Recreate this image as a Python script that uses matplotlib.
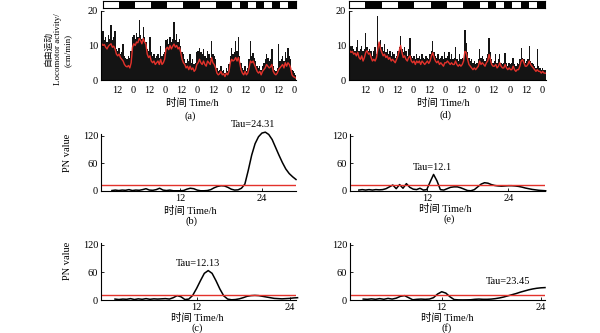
import numpy as np
import matplotlib
matplotlib.use("Agg")
import matplotlib.pyplot as plt
from matplotlib.patches import Rectangle

plt.rcParams['font.family'] = ['Liberation Serif', 'Noto Sans CJK SC']
plt.rcParams['font.size'] = 7.5

# ---------------- data ----------------
# light/dark schedule (hours)
ld_edges = [0, 12, 24, 36, 48, 60, 72, 84, 96, 102, 108, 114, 120, 126, 132, 138, 144]
ld_dark = [0, 1, 0, 1, 0, 1, 0, 1, 0, 1, 0, 1, 0, 1, 0, 1]

# panel (a): hourly activity (cm/min), raw and smoothed
act_a = [12.0, 14.3, 11.5, 12.5, 11.0, 13.0, 12.0, 15.8, 11.5, 12.5, 14.3, 9.0,
         8.5, 9.4, 7.5, 8.0, 10.5, 7.0, 6.5, 6.0, 7.0, 6.5, 8.5, 12.5,
         13.0, 12.0, 13.5, 12.5, 17.3, 13.0, 12.0, 15.3, 12.5, 11.0, 9.0, 8.5,
         12.4, 8.0, 7.0, 7.5, 6.5, 7.0, 7.5, 6.5, 9.9, 7.0, 7.5, 8.0,
         11.5, 12.0, 10.5, 12.5, 11.0, 12.0, 16.8, 11.5, 13.3, 11.0, 12.0, 10.0,
         8.0, 7.5, 6.0, 5.0, 6.0, 5.5, 7.5, 5.0, 6.0, 4.5, 5.0, 8.0,
         8.5, 9.4, 8.0, 7.5, 8.9, 7.0, 6.5, 8.4, 7.5, 6.5, 11.4, 7.5,
         7.0, 6.0, 3.5, 2.5, 3.0, 4.0, 2.5, 3.0, 2.0, 3.5, 2.5, 4.5,
         7.0, 9.4, 7.5, 8.0, 11.4, 8.5, 12.4, 7.0, 5.0, 3.5, 3.0, 4.0,
         2.5, 3.5, 6.0, 11.4, 7.0, 7.9, 6.5, 5.5, 4.0, 3.5, 4.0, 3.0,
         4.0, 5.0, 6.0, 7.5, 6.5, 5.5, 6.0, 8.9, 4.0, 3.0, 2.5, 3.5,
         10.4, 5.5, 6.0, 7.0, 5.5, 8.0, 6.5, 9.4, 7.0, 6.0, 3.0, 2.5,
         2.0, 1.5]
smooth_a = [10.5, 10.0, 10.3, 9.5, 9.0, 9.8, 10.2, 10.5, 9.5, 9.8, 9.0, 7.5,
            7.0, 7.5, 6.5, 6.0, 5.5, 4.5, 4.0, 3.8, 4.2, 3.5, 5.0, 9.5,
            10.5, 10.0, 11.0, 10.8, 12.0, 11.5, 10.5, 12.0, 11.0, 10.4, 7.5, 6.5,
            7.0, 5.5, 5.0, 5.5, 4.5, 5.0, 5.5, 4.5, 6.0, 4.5, 5.0, 6.0,
            9.0, 9.5, 8.8, 10.0, 9.0, 9.8, 10.4, 9.5, 10.0, 9.0, 9.5, 8.0,
            6.0, 5.0, 4.5, 3.5, 4.0, 3.0, 4.0, 3.0, 3.5, 2.5, 3.0, 4.5,
            5.0, 6.0, 5.0, 4.5, 5.5, 4.5, 4.0, 5.5, 5.0, 4.5, 6.5, 5.0,
            4.5, 3.5, 2.0, 1.5, 1.8, 2.5, 1.5, 1.8, 1.0, 2.0, 1.5, 2.5,
            5.0, 6.0, 5.5, 5.8, 6.5, 5.5, 6.5, 5.0, 3.0, 2.0, 1.5, 2.5,
            1.5, 2.0, 3.5, 5.5, 5.0, 5.5, 4.5, 3.5, 2.5, 2.0, 2.5, 1.5,
            2.5, 3.0, 3.5, 4.5, 4.0, 3.5, 3.8, 4.5, 2.5, 1.8, 1.5, 2.0,
            3.0, 3.5, 4.0, 4.5, 3.5, 5.0, 4.0, 5.0, 4.5, 3.5, 1.5, 1.0,
            0.8, 0.5]

# panel (d)
act_d = [11.5, 9.5, 10.0, 9.0, 8.5, 9.5, 11.7, 8.5, 9.0, 10.0, 8.5, 9.0,
         13.7, 9.5, 8.5, 9.0, 8.5, 7.0, 8.5, 9.5, 7.5, 18.5, 10.5, 11.5,
         9.5, 8.5, 10.5, 8.0, 9.0, 7.5, 8.5, 7.0, 8.0, 7.5, 6.5, 7.0,
         8.5, 9.5, 12.7, 9.0, 8.0, 9.5, 8.5, 7.0, 9.0, 12.2, 7.0, 6.5,
         7.0, 6.0, 7.5, 6.5, 7.0, 6.0, 7.5, 6.5, 6.0, 7.0, 6.5, 6.0,
         7.5, 8.5, 11.3, 8.0, 7.0, 6.5, 7.5, 6.0, 6.5, 7.0, 6.0, 8.0,
         6.5, 7.0, 8.0, 6.0, 7.5, 6.0, 6.5, 9.5, 6.0, 5.5, 7.5, 6.0,
         6.5, 5.5, 14.4, 10.8, 8.0, 6.5, 5.5, 6.0, 5.0, 5.5, 4.5, 5.0,
         6.0, 9.1, 6.5, 7.0, 6.0, 5.5, 6.5, 7.5, 12.2, 8.0, 6.0, 5.0,
         5.5, 7.5, 5.0, 6.0, 7.5, 5.0, 4.5, 5.0, 7.9, 5.0, 4.0, 5.0,
         4.5, 5.0, 6.5, 4.5, 4.0, 5.0, 4.5, 6.0, 9.3, 6.5, 6.0, 5.0,
         5.5, 6.0, 9.8, 5.5, 5.0, 4.5, 4.0, 3.5, 9.1, 4.0, 3.5, 3.0,
         3.5, 3.0, 3.0, 2.5]
smooth_d = [8.5, 8.0, 8.3, 7.5, 7.8, 7.0, 8.0, 6.5, 6.0, 7.0, 5.5, 6.5,
            8.0, 8.5, 7.5, 7.8, 6.5, 5.5, 6.0, 5.5, 6.5, 9.0, 11.0, 9.0,
            8.0, 7.0, 7.5, 6.5, 7.0, 6.0, 6.5, 5.5, 6.0, 5.5, 5.0, 6.0,
            7.0, 8.5, 10.0, 8.0, 6.5, 7.0, 6.0, 5.5, 6.5, 7.0, 5.5, 5.0,
            5.5, 4.5, 5.5, 5.0, 5.5, 4.5, 5.5, 5.0, 4.5, 5.0, 5.5, 4.8,
            5.5, 7.0, 7.9, 6.5, 5.5, 5.0, 5.5, 4.5, 5.0, 4.5, 4.0, 5.0,
            5.0, 5.5, 5.0, 4.5, 5.0, 4.5, 4.5, 5.5, 4.5, 4.0, 4.5, 4.0,
            4.5, 5.5, 8.3, 8.0, 6.0, 4.5, 4.0, 3.5, 3.0, 3.5, 3.0, 3.5,
            4.0, 5.5, 4.5, 5.0, 4.5, 4.0, 5.0, 5.5, 7.4, 6.0, 4.5, 4.0,
            4.0, 4.5, 3.5, 4.0, 5.0, 4.0, 3.5, 3.5, 4.5, 3.5, 3.0, 3.5,
            3.0, 3.0, 4.0, 3.0, 2.5, 3.0, 3.0, 4.0, 5.5, 5.9, 5.0, 4.0,
            4.0, 4.5, 5.5, 4.5, 4.0, 3.5, 3.0, 2.5, 3.0, 2.5, 2.5, 2.0,
            2.5, 2.0, 2.0, 1.8]

# periodograms (PN value vs period, h)
period_b = np.arange(2.0, 29.01, 0.5)
pn_b = [1, 2, 1, 2, 1.5, 3, 1, 2, 1.5, 3, 5, 2, 1.5, 3, 6, 2, 1, 2, 0.5, 0.5,
        0.5, 1, 4, 6, 5, 2, 0.5, 0.5, 1, 3, 7, 10, 11.5, 11, 8, 4, 2, 2.5, 6, 15,
        45, 78, 103, 118, 126, 128, 123, 112, 95, 78, 62, 48, 38, 31, 25]
sig_b = 13
tau_b = "Tau=24.31"

period_c = np.arange(1.5, 25.01, 0.5)
pn_c = [2, 1, 2, 1.5, 3, 1, 2.5, 1.5, 3, 1.5, 2.5, 2, 2.5, 3, 2, 5, 9.5, 7, 1, 2,
        10, 25, 42, 58, 64, 58, 42, 24, 9, 2, 0.5, 1, 2.5, 5, 8, 9.5, 10, 9.5, 8, 6.5,
        5, 3.5, 3, 2.5, 3, 3.5, 4.5, 5]
sig_c = 11
tau_c = "Tau=12.13"

period_e = np.arange(2.0, 29.51, 0.5)
pn_e = [2, 3, 2, 3, 2, 3, 2.5, 3, 5, 9, 13, 5, 14, 6, 16, 8, 4, 3, 6, 2,
        3, 20, 36, 22, 3, 2, 5, 8, 9, 9, 7, 4, 1, 0.5, 3, 9, 15, 18, 17, 14,
        12, 11, 10.5, 11, 11.5, 11.5, 11, 10, 8.5, 6.5, 5, 3.5, 2.5, 1.5, 1, 0.5]
sig_e = 13
tau_e = "Tau=12.1"

period_f = np.arange(2.5, 24.51, 0.5)
pn_f = [2, 1.5, 2.5, 1.5, 3, 1.5, 3.5, 2, 4, 8, 9.5, 5, 0.5, 1.5, 2, 1.5, 2, 5, 13, 18,
        15, 7, 1, 0.3, 0.2, 0.3, 0.5, 1.5, 2, 1.5, 1.5, 2, 3, 4.5, 6.5, 9, 11.5, 14, 17, 19.5,
        22, 24, 25.5, 26.5, 27]
sig_f = 11
tau_f = "Tau=23.45"

BLACK = '#141414'
RED = '#e3322b'

fig = plt.figure(figsize=(6, 3.33), dpi=100)


def ax_px(l, t, r, b):
    return fig.add_axes([l / 600, 1 - b / 333, (r - l) / 600, (b - t) / 333])


def ftext(x, y, s, **kw):
    fig.text(x / 600, 1 - y / 333, s, ha='center', va='center', **kw)


def style(ax):
    for s in ('top', 'right'):
        ax.spines[s].set_visible(False)
    for s in ('left', 'bottom'):
        ax.spines[s].set_linewidth(0.8)
    ax.tick_params(direction='in', length=2, width=0.6, pad=2, labelsize=7.5)


def ld_bar(l, r):
    bx = ax_px(l, 1, r, 8)
    bx.set_xlim(ld_edges[0], ld_edges[-1])
    bx.set_ylim(0, 1)
    for i, d in enumerate(ld_dark):
        if d:
            bx.add_patch(Rectangle((ld_edges[i], 0), ld_edges[i + 1] - ld_edges[i], 1,
                                   facecolor='black', edgecolor='none'))
    bx.set_xticks([])
    bx.set_yticks([])
    for s in bx.spines.values():
        s.set_linewidth(0.8)


def activity(ax, act, smooth, xmax):
    hrs = np.arange(len(act))
    ax.bar(hrs, act, width=1.0, align='edge', color=BLACK, linewidth=0)
    ax.plot(hrs + 0.5, smooth, color=RED, lw=1.0)
    ax.set_xlim(0, xmax)
    ax.set_ylim(0, 20)
    ticks = list(range(12, 145, 12))
    ax.set_xticks(ticks)
    ax.set_xticklabels(['12' if t % 24 == 12 else '0' for t in ticks])
    ax.set_yticks([0, 10, 20])
    style(ax)
    ax.tick_params(axis='x', length=0, pad=4)


def pgram(ax, per, pn, sig, xlim, ticks):
    ax.plot(per, pn, color='black', lw=1.1, clip_on=False)
    ax.axhline(sig, color=RED, lw=1.0)
    ax.set_xlim(*xlim)
    ax.set_ylim(0, 124)
    ax.set_xticks(ticks)
    ax.set_yticks([0, 60, 120])
    style(ax)


# (a)
ax_a = ax_px(101, 11, 296, 80)
activity(ax_a, act_a, smooth_a, 145.5)
ld_bar(103, 296)
# (d)
ax_d = ax_px(349, 11, 546, 80)
activity(ax_d, act_d, smooth_d, 147)
ld_bar(349, 545)

# (b)
ax_b = ax_px(101, 134, 296, 191)
pgram(ax_b, period_b, pn_b, sig_b, (0.4, 29.0), [12, 24])
ftext(253, 124, tau_b)
# (e)
ax_e = ax_px(350, 134, 545, 191)
pgram(ax_e, period_e, pn_e, sig_e, (0.7, 29.4), [12, 24])
ftext(432, 168, tau_e)
# (c)
ax_c = ax_px(101, 243, 296, 300)
pgram(ax_c, period_c, pn_c, sig_c, (-0.3, 24.8), [12, 24])
ftext(198, 263, tau_c)
# (f)
ax_f = ax_px(350, 243, 545, 300)
pgram(ax_f, period_f, pn_f, sig_f, (0.9, 24.5), [12, 24])
ftext(508, 282, tau_f)

# axis titles and panel letters
xl = "时间 Time/h"
for (x, y, s) in [(192, 103, xl), (190, 116, "(a)"),
                  (443, 103, xl), (445, 115, "(d)"),
                  (190, 211, xl), (192, 221, "(b)"),
                  (445, 209, xl), (449, 219, "(e)"),
                  (197, 318, xl), (197, 328, "(c)"),
                  (447, 318, xl), (447, 328, "(f)")]:
    ftext(x, y, s)

ftext(48.5, 48, "自由运动", rotation=90, fontsize=6.3)
ftext(58, 49, "Locomotor activity/", rotation=90, fontsize=6.5)
ftext(67.5, 50, "(cm/min)", rotation=90, fontsize=6.5)
ftext(68, 153, "PN value", rotation=90, fontsize=7.5)
ftext(68, 261, "PN value", rotation=90, fontsize=7.5)

fig.savefig("out.png", dpi=100)
